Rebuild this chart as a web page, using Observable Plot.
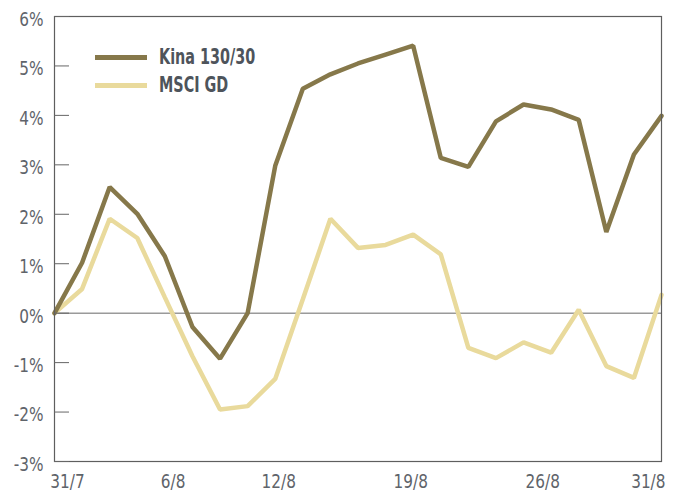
<!DOCTYPE html>
<html><head><meta charset="utf-8">
<script src="https://cdn.jsdelivr.net/npm/d3@7"></script>
<script src="https://cdn.jsdelivr.net/npm/@observablehq/plot@0.6"></script>
<style>
body{margin:0;background:#fff}
#wrap{position:relative;width:675px;height:492px;font-family:"DejaVu Sans Condensed","Liberation Sans Narrow",sans-serif}
.lg-sw{position:absolute;left:95px;width:52px;height:5px}
.lg-tx{position:absolute;left:159px;font-weight:bold;font-size:21px;line-height:21px;color:#4e545b;white-space:nowrap;transform:scaleX(0.76);transform-origin:0 50%}
</style>
</head><body><div id="wrap"></div>
<script>
const dates = ["31/7","1/8","4/8","5/8","6/8","7/8","8/8","11/8","12/8","13/8","14/8","15/8","18/8","19/8","20/8","21/8","22/8","25/8","26/8","27/8","28/8","29/8","31/8"];
const kina = [0, 1.02, 2.55, 2.01, 1.15, -0.28, -0.92, 0.0, 2.98, 4.54, 4.83, 5.05, 5.23, 5.41, 3.14, 2.96, 3.88, 4.22, 4.12, 3.91, 1.64, 3.21, 3.99];
const msci = [0, 0.49, 1.91, 1.52, 0.32, -0.87, -1.95, -1.88, -1.33, 0.28, 1.91, 1.32, 1.38, 1.59, 1.19, -0.70, -0.91, -0.59, -0.80, 0.07, -1.07, -1.31, 0.37];
const seriesNames = ["Kina 130/30", "MSCI GD"];
const seriesColors = ["#86784a", "#e9da9c"];
const yTicks = [-3, -2, -1, 0, 1, 2, 3, 4, 5, 6];
const xTickLabels = ["31/7", "6/8", "12/8", "19/8", "26/8", "31/8"];

const kinaRows = dates.map((d, i) => ({date: d, value: kina[i]}));
const msciRows = dates.map((d, i) => ({date: d, value: msci[i]}));

const labelMarks = xTickLabels.map(lab => {
  const i = dates.indexOf(lab);
  return Plot.text([lab], {x: d => d, text: d => d, frameAnchor: "bottom", lineAnchor: "top", dy: 12, dx: 13 - 1.19 * i, fill: "#5f646a", fontSize: 20});
});

const chart = Plot.plot({
  width: 675, height: 492,
  marginLeft: 54, marginRight: 14, marginTop: 16, marginBottom: 31,
  style: {fontFamily: '"DejaVu Sans Condensed","Liberation Sans Narrow",sans-serif', background: "#fff"},
  x: {type: "point", domain: dates, padding: 0, round: false, axis: null},
  y: {domain: [-3, 6], axis: null},
  marks: [
    Plot.ruleY([0], {stroke: "#9a9a9a", strokeWidth: 1.5}),
    Plot.line(msciRows, {x: "date", y: "value", stroke: seriesColors[1], strokeWidth: 4.5, strokeLinejoin: "miter"}),
    Plot.line(kinaRows, {x: "date", y: "value", stroke: seriesColors[0], strokeWidth: 4.5, strokeLinejoin: "miter"}),
    Plot.frame({stroke: "#5e5e5e", strokeWidth: 1.2}),
    Plot.axisY({ticks: yTicks, tickSize: -15, tickFormat: () => "", stroke: "#666", label: null}),
    Plot.axisY({ticks: yTicks, tickSize: 0, tickPadding: 11, tickFormat: d => d + "%", fill: "#5f646a", fontSize: 20, dy: 3, label: null}),
    ...labelMarks
  ]
});
chart.querySelectorAll("text").forEach(t => {
  const tr = t.getAttribute("transform");
  if (tr && t.textContent) t.setAttribute("transform", tr + " scale(0.85,1)");
});
const wrap = document.getElementById("wrap");
wrap.appendChild(chart);

const legendTops = [55, 83];
seriesNames.forEach((name, k) => {
  const sw = document.createElement("div");
  sw.className = "lg-sw";
  sw.style.top = legendTops[k] + "px";
  sw.style.background = seriesColors[k];
  wrap.appendChild(sw);
  const tx = document.createElement("div");
  tx.className = "lg-tx";
  tx.style.top = (legendTops[k] - 8) + "px";
  tx.textContent = name;
  wrap.appendChild(tx);
});
</script>
</body></html>
